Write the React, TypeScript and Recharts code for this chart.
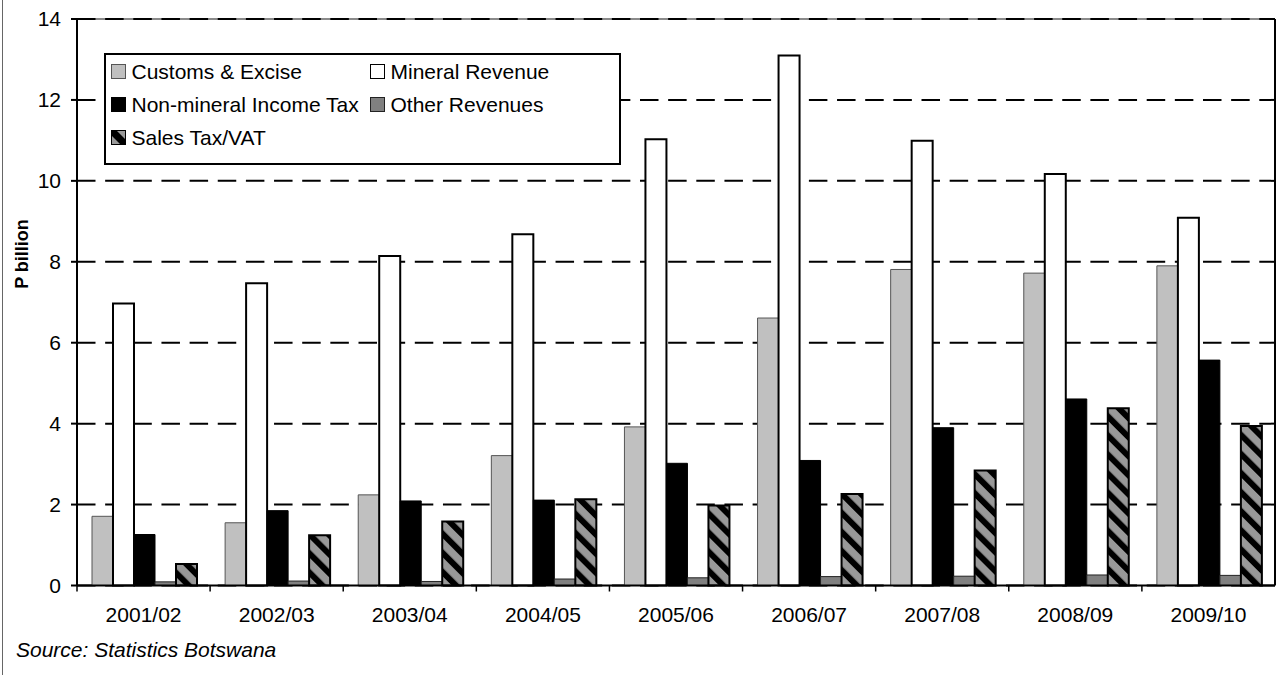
import * as React from "react";
import { BarChart, Bar, XAxis, YAxis, CartesianGrid, Legend } from "recharts";

// Botswana government revenue by source, P billion
const years = [
  "2001/02",
  "2002/03",
  "2003/04",
  "2004/05",
  "2005/06",
  "2006/07",
  "2007/08",
  "2008/09",
  "2009/10",
];
const customsExcise = [1.71, 1.55, 2.24, 3.21, 3.92, 6.61, 7.81, 7.72, 7.9];
const mineralRevenue = [6.97, 7.47, 8.14, 8.68, 11.03, 13.1, 10.99, 10.17, 9.09];
const nonMineralIncomeTax = [1.26, 1.85, 2.09, 2.11, 3.02, 3.09, 3.9, 4.61, 5.57];
const otherRevenues = [0.09, 0.11, 0.1, 0.16, 0.19, 0.22, 0.23, 0.26, 0.25];
const salesTaxVat = [0.53, 1.24, 1.58, 2.13, 1.98, 2.26, 2.84, 4.38, 3.94];
const yTicks = [0, 2, 4, 6, 8, 10, 12, 14];

const data = years.map((year, i) => ({
  year,
  customs: customsExcise[i],
  mineral: mineralRevenue[i],
  nonMineral: nonMineralIncomeTax[i],
  other: otherRevenues[i],
  vat: salesTaxVat[i],
}));

const WIDTH = 1276;
const HEIGHT = 675;
const FONT = '"Liberation Sans", Arial, Helvetica, sans-serif';

function LegendIcon({ dataKey }: { dataKey: string }) {
  const box = { width: 15, height: 15, display: "block" as const };
  if (dataKey === "vat") {
    return (
      <svg style={box} viewBox="0 0 15 15">
        <rect x={0.5} y={0.5} width={14} height={14} fill="#999" stroke="#000" />
        <polygon points="0,0 5,0 15,10 15,15 10,15 0,5" fill="#000" />
      </svg>
    );
  }
  const fills: Record<string, [string, string]> = {
    customs: ["#c0c0c0", "#555"],
    mineral: ["#fff", "#000"],
    nonMineral: ["#000", "#000"],
    other: ["#808080", "#222"],
  };
  const [fill, stroke] = fills[dataKey] || ["#ccc", "#000"];
  return (
    <svg style={box} viewBox="0 0 15 15">
      <rect x={0.5} y={0.5} width={14} height={14} fill={fill} stroke={stroke} />
    </svg>
  );
}

function RevenueLegend({ payload }: any) {
  return (
    <div
      style={{
        display: "grid",
        gridTemplateColumns: "259px auto",
        gridAutoRows: "33px",
        paddingLeft: 4.5,
        fontFamily: FONT,
        fontSize: 21,
        color: "#000",
      }}
    >
      {(payload || []).map((entry: any) => (
        <div
          key={entry.dataKey}
          style={{ display: "flex", alignItems: "center", gap: 6, whiteSpace: "nowrap" }}
        >
          <LegendIcon dataKey={entry.dataKey} />
          <span>{entry.value}</span>
        </div>
      ))}
    </div>
  );
}

// category labels centred, tick marks on the category boundaries
function YearTick({ x, y, payload }: any) {
  const half = payload.offset || 66.5;
  return (
    <g>
      <line x1={x - half} x2={x - half} y1={y - 8} y2={y - 2} stroke="#000" strokeWidth={1.5} />
      <text x={x} y={y + 28.5} textAnchor="middle" fontSize={21} fill="#000" fontFamily={FONT}>
        {payload.value}
      </text>
    </g>
  );
}

export default function App() {
  return (
    <div
      style={{
        position: "absolute",
        left: 0,
        top: 0,
        width: WIDTH,
        height: HEIGHT,
        background: "#fff",
        fontFamily: FONT,
      }}
    >
      <div
        style={{
          position: "absolute",
          left: 2,
          top: 0,
          width: 0,
          height: HEIGHT,
          borderLeft: "1.5px solid #666",
        }}
      />
      <BarChart
        width={WIDTH}
        height={HEIGHT}
        data={data}
        margin={{ top: 19, right: 0, bottom: 0, left: 0 }}
        barCategoryGap={15}
        barGap={0}
      >
        <defs>
          <pattern
            id="vatHatch"
            patternUnits="userSpaceOnUse"
            width={13.5}
            height={13.5}
            patternTransform="rotate(-45)"
          >
            <rect width={13.5} height={13.5} fill="#999" />
            <rect width={6} height={13.5} fill="#000" />
          </pattern>
        </defs>
        <CartesianGrid
          vertical={false}
          horizontalValues={[14]}
          stroke="#8a8a8a"
          strokeWidth={2}
        />
        <CartesianGrid
          vertical={false}
          stroke="#000"
          strokeWidth={2}
          strokeDasharray="18.5 9.65"
        />
        <XAxis
          dataKey="year"
          height={89.5}
          tickLine={false}
          tickSize={6}
          tickMargin={2}
          axisLine={{ stroke: "#000", strokeWidth: 2 }}
          tick={<YearTick />}
          interval={0}
          label={{
            content: () => (
              <text x={16} y={657} fontSize={21} fontStyle="italic" fill="#000" fontFamily={FONT}>
                Source: Statistics Botswana
              </text>
            ),
          }}
        />
        <YAxis
          width={77}
          domain={[0, 14]}
          ticks={yTicks}
          interval={0}
          tickSize={6}
          tickMargin={10}
          tick={{ fontSize: 21, fill: "#000", fontFamily: FONT }}
          tickLine={{ stroke: "#000", strokeWidth: 2 }}
          axisLine={{ stroke: "#000", strokeWidth: 2 }}
          label={{
            content: () => (
              <text
                x={28}
                y={254}
                transform="rotate(-90 28 254)"
                textAnchor="middle"
                fontSize={18}
                fontWeight="bold"
                fill="#000"
                fontFamily={FONT}
              >
                P billion
              </text>
            ),
          }}
        />
        <YAxis
          yAxisId="frame"
          orientation="right"
          width={1}
          domain={[0, 14]}
          tick={false}
          tickLine={false}
          axisLine={{ stroke: "#000", strokeWidth: 2 }}
        />
        <Legend
          layout="horizontal"
          verticalAlign="middle"
          align="center"
          content={<RevenueLegend />}
          wrapperStyle={{
            left: 104,
            top: 53,
            width: 517,
            height: 112,
            border: "2px solid #000",
            background: "#fff",
            boxSizing: "border-box",
          }}
        />
        <Bar
          dataKey="customs"
          name="Customs & Excise"
          fill="#c0c0c0"
          stroke="#555"
          strokeWidth={1}
          isAnimationActive={false}
        />
        <Bar
          dataKey="mineral"
          name="Mineral Revenue"
          fill="#fff"
          stroke="#000"
          strokeWidth={2}
          isAnimationActive={false}
        />
        <Bar
          dataKey="nonMineral"
          name="Non-mineral Income Tax"
          fill="#000"
          stroke="#000"
          strokeWidth={1}
          isAnimationActive={false}
        />
        <Bar
          dataKey="other"
          name="Other Revenues"
          fill="#808080"
          stroke="#222"
          strokeWidth={1}
          isAnimationActive={false}
        />
        <Bar
          dataKey="vat"
          name="Sales Tax/VAT"
          fill="url(#vatHatch)"
          stroke="#000"
          strokeWidth={2}
          isAnimationActive={false}
        />
      </BarChart>
    </div>
  );
}
